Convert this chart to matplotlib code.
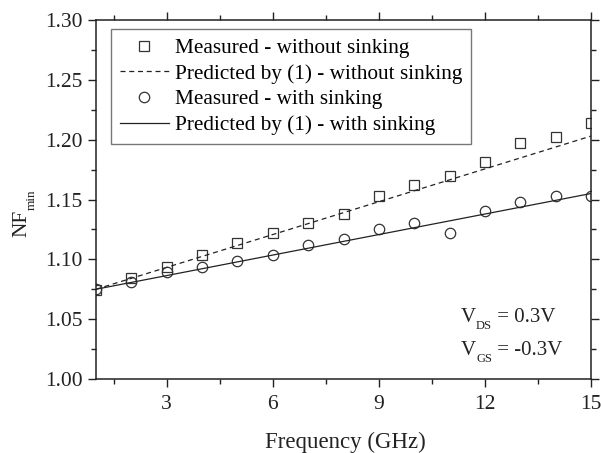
import numpy as np
import matplotlib
matplotlib.use('Agg')
import matplotlib.pyplot as plt
from matplotlib.ticker import MultipleLocator, FormatStrFormatter

plt.rcParams['font.family'] = 'Liberation Serif'

freq = [1, 2, 3, 4, 5, 6, 7, 8, 9, 10, 11, 12, 13, 14, 15]
nf_sin_sinking = [1.074, 1.084, 1.094, 1.104, 1.114, 1.122, 1.130, 1.138,
                  1.153, 1.162, 1.170, 1.181, 1.197, 1.202, 1.214]
nf_con_sinking = [1.075, 1.081, 1.089, 1.094, 1.099, 1.104, 1.112, 1.117,
                  1.125, 1.130, 1.122, 1.140, 1.148, 1.153, 1.153]

# Predicción de (1): rectas
freq_pred = [1, 15]
pred_sin_sinking = [1.075, 1.203]
pred_con_sinking = [1.075, 1.155]

W, H = 601, 453
fig = plt.figure(figsize=(W / 100, H / 100), dpi=100)
ax = fig.add_axes([96 / W, 1 - 379 / H, 495 / W, 359 / H])
negro = '#222222'

ax.plot(freq, nf_sin_sinking, linestyle='none', marker='s', markersize=7,
        markerfacecolor='none', markeredgecolor='#333333', markeredgewidth=0.9,
        label='Measured - without sinking')
ax.plot(freq_pred, pred_sin_sinking, linestyle=(0, (4, 3)), color=negro,
        linewidth=0.9, label='Predicted by (1) - without sinking')
ax.plot(freq, nf_con_sinking, linestyle='none', marker='o', markersize=7.5,
        markerfacecolor='none', markeredgecolor='#333333', markeredgewidth=0.9,
        label='Measured - with sinking')
ax.plot(freq_pred, pred_con_sinking, linestyle='-', color=negro,
        linewidth=0.9, label='Predicted by (1) - with sinking')

ax.set_xlim(1, 15)
ax.set_ylim(1.00, 1.30)
ax.xaxis.set_major_locator(MultipleLocator(3))
ax.xaxis.set_minor_locator(MultipleLocator(1.5))
ax.yaxis.set_major_locator(MultipleLocator(0.05))
ax.yaxis.set_minor_locator(MultipleLocator(0.025))
ax.yaxis.set_major_formatter(FormatStrFormatter('%.2f'))
ax.tick_params(which='both', direction='out', top=True, right=True,
               labelsize=15.5, width=1, colors=negro)
ax.tick_params(which='major', length=6)
ax.tick_params(which='minor', length=3.5)
ax.tick_params(axis='x', pad=5.5)
for s in ax.spines.values():
    s.set_linewidth(1.1)
    s.set_color(negro)

leg = ax.legend(loc='upper left', bbox_to_anchor=(0.03, 0.974), borderaxespad=0,
                fontsize=15.3, frameon=True, fancybox=False, handlelength=2.3,
                handletextpad=0.3, labelspacing=0.27, borderpad=0.42)
leg.get_frame().set_edgecolor('#555555')
leg.get_frame().set_linewidth(1.0)

# Etiqueta del eje x colocada en píxeles
fig.text(345 / W, 1 - 448 / H, 'Frequency (GHz)', fontsize=16.5, color=negro,
         ha='center', va='baseline')

# Textos con subíndice pequeño, colocados a mano (en píxeles)
fig.canvas.draw()
rend = fig.canvas.get_renderer()


def texto_sub(x, y, base, sub, resto, size, subsize, caida):
    t = fig.text(x / W, 1 - y / H, base, fontsize=size, color=negro,
                 ha='left', va='baseline')
    bb = t.get_window_extent(rend)
    t2 = fig.text(bb.x1 / W, 1 - (y + caida) / H, sub, fontsize=subsize,
                  color=negro, ha='left', va='baseline')
    bb2 = t2.get_window_extent(rend)
    if resto:
        fig.text(bb2.x1 / W, 1 - y / H, resto, fontsize=size, color=negro,
                 ha='left', va='baseline')


texto_sub(461, 321.5, 'V', 'DS', ' = 0.3V', 15, 9, 7.5)
texto_sub(461, 355, 'V', 'GS', ' = -0.3V', 15, 9, 7.5)

# Etiqueta del eje y: NF con subíndice min (rotada)
fig.text(26.5 / W, 1 - 237 / H, 'NF', fontsize=15.5, color=negro, rotation=90,
         ha='left', va='baseline', rotation_mode='anchor')
fig.text(35 / W, 1 - 210 / H, 'min', fontsize=9.5, color=negro, rotation=90,
         ha='left', va='baseline', rotation_mode='anchor')

fig.savefig('out.png', dpi=100)
